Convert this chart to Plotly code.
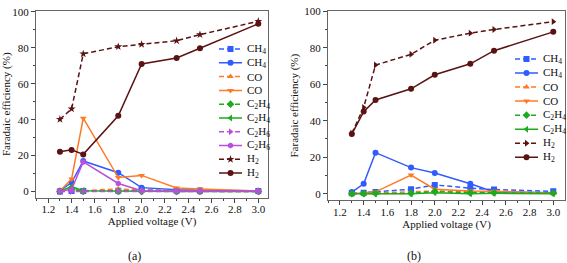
import plotly.graph_objects as go

# ---------------- data ----------------
voltage = [1.3, 1.4, 1.5, 1.8, 2.0, 2.3, 2.5, 3.0]

# panel (a)
a_ch4_d = [0.1, 0.3, 0.3, 0.5, 1.0, 0.5, 0.5, 0.3]
a_ch4_s = [0.5, 5.0, 17.0, 10.5, 2.2, 1.0, 0.8, 0.5]
a_co_d = [0.2, 1.0, 0.5, 1.5, 0.8, 0.5, 0.5, 0.3]
a_co_s = [0.3, 7.0, 40.8, 7.8, 9.0, 2.0, 1.5, 0.3]
a_c2h4_d = [0.1, 1.5, 0.2, 0.1, 0.1, 0.1, 0.1, 0.1]
a_c2h4_s = [0.2, 2.8, 0.5, 0.2, 0.1, 0.1, 0.1, 0.1]
a_c2h6_d = [0.1, 0.1, 0.2, 0.3, 0.2, 0.1, 0.1, 0.1]
a_c2h6_s = [0.2, 1.2, 16.5, 4.5, 0.5, 0.3, 0.3, 0.3]
a_h2_d = [40.2, 46.0, 76.6, 80.6, 81.9, 83.9, 87.3, 94.7]
a_h2_s = [22.1, 23.2, 20.7, 42.2, 71.0, 74.3, 79.7, 93.3]

# panel (b)
b_ch4_d = [0.3, 0.5, 1.0, 2.5, 4.8, 3.0, 2.3, 1.3]
b_ch4_s = [0.9, 5.4, 22.5, 14.3, 11.3, 5.5, 1.0, 0.5]
b_co_d = [0.0, 0.2, 0.5, 0.8, 1.5, 1.0, 0.8, 0.3]
b_co_s = [0.0, 0.3, 1.0, 10.2, 2.5, 1.5, 1.3, 0.3]
b_c2h4_d = [0.0, 0.0, 0.2, 0.2, 1.2, 0.5, 0.5, 0.3]
b_c2h4_s = [0.0, 0.0, 0.0, 0.0, 0.5, 0.0, 0.2, 0.0]
b_h2_d = [33.1, 47.3, 70.5, 76.4, 84.1, 88.0, 90.0, 94.3]
b_h2_s = [32.7, 45.0, 51.4, 57.5, 65.2, 71.2, 78.4, 88.7]

y_ticks = [0, 20, 40, 60, 80, 100]
x_tick_labels = ["1.2", "1.4", "1.6", "1.8", "2.0", "2.2", "2.4", "2.6", "2.8", "3.0"]
x_tick_vals = [1.2, 1.4, 1.6, 1.8, 2.0, 2.2, 2.4, 2.6, 2.8, 3.0]

# ---------------- styles ----------------
BLUE = "#2f5bff"
ORANGE = "#ff7a26"
GREEN = "#1faa1f"
PURPLE = "#bb4fdd"
BROWN = "#5a1212"
TXT = "#111"
FONT = "Liberation Serif"
W, H = 567, 263

series_a = [
    ("CH<sub>4</sub>", a_ch4_d, BLUE, "5px,3px", "square"),
    ("CH<sub>4</sub>", a_ch4_s, BLUE, "solid", "circle"),
    ("CO", a_co_d, ORANGE, "5px,3px", "triangle-up"),
    ("CO", a_co_s, ORANGE, "solid", "triangle-down"),
    ("C<sub>2</sub>H<sub>4</sub>", a_c2h4_d, GREEN, "5px,3px", "diamond"),
    ("C<sub>2</sub>H<sub>4</sub>", a_c2h4_s, GREEN, "solid", "triangle-left"),
    ("C<sub>2</sub>H<sub>6</sub>", a_c2h6_d, PURPLE, "5px,3px", "triangle-right"),
    ("C<sub>2</sub>H<sub>6</sub>", a_c2h6_s, PURPLE, "solid", "hexagon"),
    ("H<sub>2</sub>", a_h2_d, BROWN, "5px,3px", "star"),
    ("H<sub>2</sub>", a_h2_s, BROWN, "solid", "circle"),
]
series_b = [
    ("CH<sub>4</sub>", b_ch4_d, BLUE, "5px,3px", "square"),
    ("CH<sub>4</sub>", b_ch4_s, BLUE, "solid", "circle"),
    ("CO", b_co_d, ORANGE, "5px,3px", "triangle-up"),
    ("CO", b_co_s, ORANGE, "solid", "triangle-down"),
    ("C<sub>2</sub>H<sub>4</sub>", b_c2h4_d, GREEN, "5px,3px", "diamond"),
    ("C<sub>2</sub>H<sub>4</sub>", b_c2h4_s, GREEN, "solid", "triangle-left"),
    ("H<sub>2</sub>", b_h2_d, BROWN, "5px,3px", "triangle-right"),
    ("H<sub>2</sub>", b_h2_s, BROWN, "solid", "circle"),
]

fig = go.Figure()

def add_panel(series, xa, ya, lxa, lya):
    for name, vals, col, dash, sym in series:
        fig.add_trace(go.Scatter(
            x=voltage, y=vals, mode="lines+markers", name=name, showlegend=False,
            xaxis=xa, yaxis=ya,
            line=dict(color=col, width=1.5, dash=dash),
            marker=dict(symbol=sym, size=6, color=col, line=dict(width=0)),
        ))
    # compact legend drawn on a hidden helper axis
    for i, (name, vals, col, dash, sym) in enumerate(series):
        fig.add_trace(go.Scatter(
            x=[0, 0.5, 1], y=[i, i, i], mode="lines+markers", showlegend=False,
            hoverinfo="skip", xaxis=lxa, yaxis=lya,
            line=dict(color=col, width=1.5, dash=dash),
            marker=dict(symbol=sym, size=6, color=col, opacity=[0, 1, 0], line=dict(width=0)),
        ))
        fig.add_annotation(x=1, y=i, xref=lxa, yref=lya, text=name, showarrow=False,
                           xanchor="left", yanchor="middle", xshift=3,
                           font=dict(family=FONT, size=11, color=TXT))

add_panel(series_a, "x", "y", "x3", "y3")
add_panel(series_b, "x2", "y2", "x4", "y4")

def px_dom_x(a, b):
    return [a / W, b / W]

def px_dom_y(top, bottom):
    return [(H - bottom) / H, (H - top) / H]

axis_common = dict(
    showline=True, linecolor="#666", linewidth=1, mirror=True,
    ticks="outside", ticklen=4, tickwidth=1, tickcolor="#444",
    showgrid=False, zeroline=False, ticklabeloverflow="allow",
    tickfont=dict(family=FONT, size=11, color=TXT),
)

xa_common = dict(axis_common, tickvals=x_tick_vals, ticktext=x_tick_labels, ticklabelstandoff=-3,
                 minor=dict(ticks="outside", ticklen=2, dtick=0.1, tick0=1.2, tickcolor="#444"),
                 title=dict(text="Applied voltage (V)", font=dict(family=FONT, size=11, color=TXT), standoff=3))
ya_common = dict(axis_common, tickvals=y_ticks,
                 minor=dict(ticks="outside", ticklen=2, dtick=10, tickcolor="#444"),
                 title=dict(text="Faradaic efficiency (%)", font=dict(family=FONT, size=11, color=TXT), standoff=3))

n_a = len(series_a)
n_b = len(series_b)

fig.update_layout(
    width=W, height=H,
    margin=dict(l=0, r=0, t=0, b=0),
    paper_bgcolor="white", plot_bgcolor="white",
    font=dict(family=FONT, color=TXT),
    xaxis=dict(xa_common, domain=px_dom_x(36, 268), range=[1.095, 3.083], anchor="y"),
    yaxis=dict(ya_common, domain=px_dom_y(5, 196), range=[-3.3, 100.5], anchor="x"),
    xaxis2=dict(xa_common, domain=px_dom_x(328, 565), range=[1.099, 3.099], anchor="y2"),
    yaxis2=dict(ya_common, domain=px_dom_y(5, 199), range=[-3.7, 100.2], anchor="x2"),
    xaxis3=dict(domain=px_dom_x(219, 242), range=[0, 1], visible=False, anchor="y3"),
    yaxis3=dict(domain=px_dom_y(37, 178), range=[n_a - 0.5, -0.5], visible=False, anchor="x3"),
    xaxis4=dict(domain=px_dom_x(515, 538), range=[0, 1], visible=False, anchor="y4"),
    yaxis4=dict(domain=px_dom_y(47, 162), range=[n_b - 0.5, -0.5], visible=False, anchor="x4"),
    showlegend=False,
)

fig.add_annotation(x=134 / W, y=(H - 256) / H, xref="paper", yref="paper", text="(a)",
                   xanchor="center", yanchor="middle",
                   showarrow=False, font=dict(family=FONT, size=12, color=TXT))
fig.add_annotation(x=414 / W, y=(H - 256) / H, xref="paper", yref="paper", text="(b)",
                   xanchor="center", yanchor="middle",
                   showarrow=False, font=dict(family=FONT, size=12, color=TXT))

fig.write_html("out.html", config={"displayModeBar": False},
               post_script="document.body.style.margin='0';document.body.style.padding='0';")
